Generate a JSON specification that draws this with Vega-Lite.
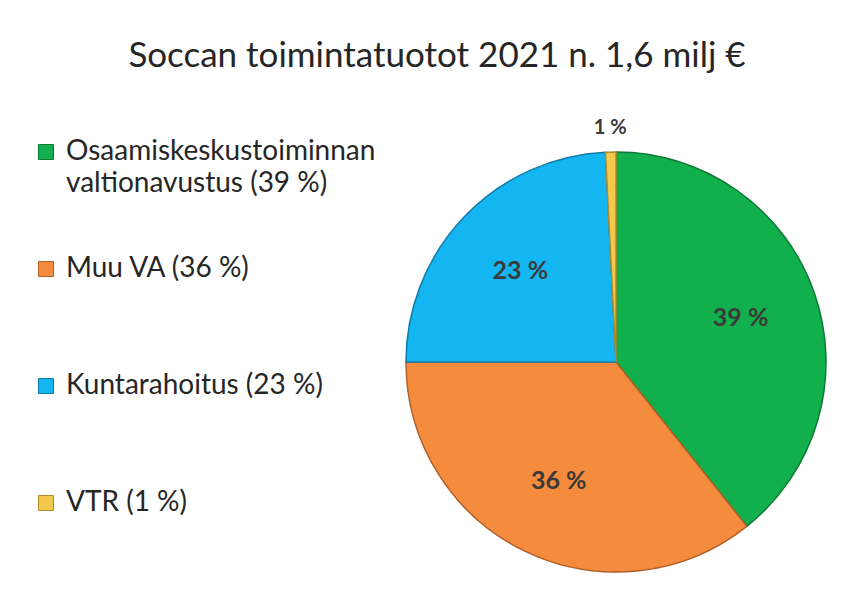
{
  "$schema": "https://vega.github.io/schema/vega-lite/v6.json",
  "width": 470,
  "height": 484,
  "autosize": "none",
  "padding": {"left": 381, "top": 120, "right": 0, "bottom": 0},
  "background": "white",
  "config": {"view": {"stroke": null}, "font": "Lato", "style": {"guide-label": {"lineHeight": 32}}},
  "title": {
    "text": "Soccan toimintatuotot 2021 n. 1,6 milj €",
    "anchor": "middle",
    "dx": -179,
    "baseline": "alphabetic",
    "offset": 16,
    "fontSize": 35,
    "fontWeight": "normal",
    "color": "#262626",
    "font": "Lato"
  },
  "data": {
    "values": [
      {"cat": "Osaamiskeskustoiminnan valtionavustus (39 %)", "value": 39.3, "label": "39 %", "ord": 1, "pos": "in"},
      {"cat": "Muu VA (36 %)", "value": 35.7, "label": "36 %", "ord": 2, "pos": "in"},
      {"cat": "Kuntarahoitus (23 %)", "value": 24.2, "label": "23 %", "ord": 3, "pos": "in"},
      {"cat": "VTR (1 %)", "value": 0.8, "label": "1 %", "ord": 4, "pos": "out"}
    ]
  },
  "layer": [
    {
      "mark": {"type": "arc", "outerRadius": 210, "strokeWidth": 1.5},
      "encoding": {
        "theta": {"field": "value", "type": "quantitative", "stack": true},
        "order": {"field": "ord", "type": "quantitative"},
        "color": {
          "field": "cat",
          "type": "nominal",
          "scale": {
            "domain": ["Osaamiskeskustoiminnan valtionavustus (39 %)", "Muu VA (36 %)", "Kuntarahoitus (23 %)", "VTR (1 %)"],
            "range": ["#12b04c", "#f58b3c", "#14b6f2", "#f2c94a"]
          },
          "legend": {
            "orient": "none",
            "legendX": -349,
            "legendY": 18,
            "title": null,
            "symbolType": "square",
            "symbolSize": 225,
            "symbolStrokeWidth": 1,
            "labelFont": "Lato",
            "labelFontSize": 28,
            "labelColor": "#262626",
            "labelLimit": 500,
            "labelOffset": 6,
            "gridAlign": "all",
            "rowPadding": 57,
            "labelExpr": "datum.label == 'Osaamiskeskustoiminnan valtionavustus (39 %)' ? ['Osaamiskeskustoiminnan', 'valtionavustus (39 %)'] : datum.label"
          }
        },
        "stroke": {
          "field": "cat",
          "type": "nominal",
          "scale": {
            "domain": ["Osaamiskeskustoiminnan valtionavustus (39 %)", "Muu VA (36 %)", "Kuntarahoitus (23 %)", "VTR (1 %)"],
            "range": ["#0b7a34", "#b0602a", "#0f7ca8", "#b08a2e"]
          },
          "legend": null
        }
      }
    },
    {
      "mark": {"type": "text", "radius": 132, "fontSize": 25, "fontWeight": "bold", "color": "#3a3a3a", "font": "Lato"},
      "encoding": {
        "theta": {"field": "value", "type": "quantitative", "stack": true},
        "order": {"field": "ord", "type": "quantitative"},
        "detail": {"field": "cat", "type": "nominal"},
        "text": {"condition": {"test": "datum.pos == 'in'", "field": "label"}, "value": ""}
      }
    },
    {
      "mark": {"type": "text", "radius": 234, "fontSize": 20, "fontWeight": "bold", "color": "#3a3a3a", "font": "Lato"},
      "encoding": {
        "theta": {"field": "value", "type": "quantitative", "stack": true},
        "order": {"field": "ord", "type": "quantitative"},
        "detail": {"field": "cat", "type": "nominal"},
        "text": {"condition": {"test": "datum.pos == 'out'", "field": "label"}, "value": ""}
      }
    }
  ]
}
